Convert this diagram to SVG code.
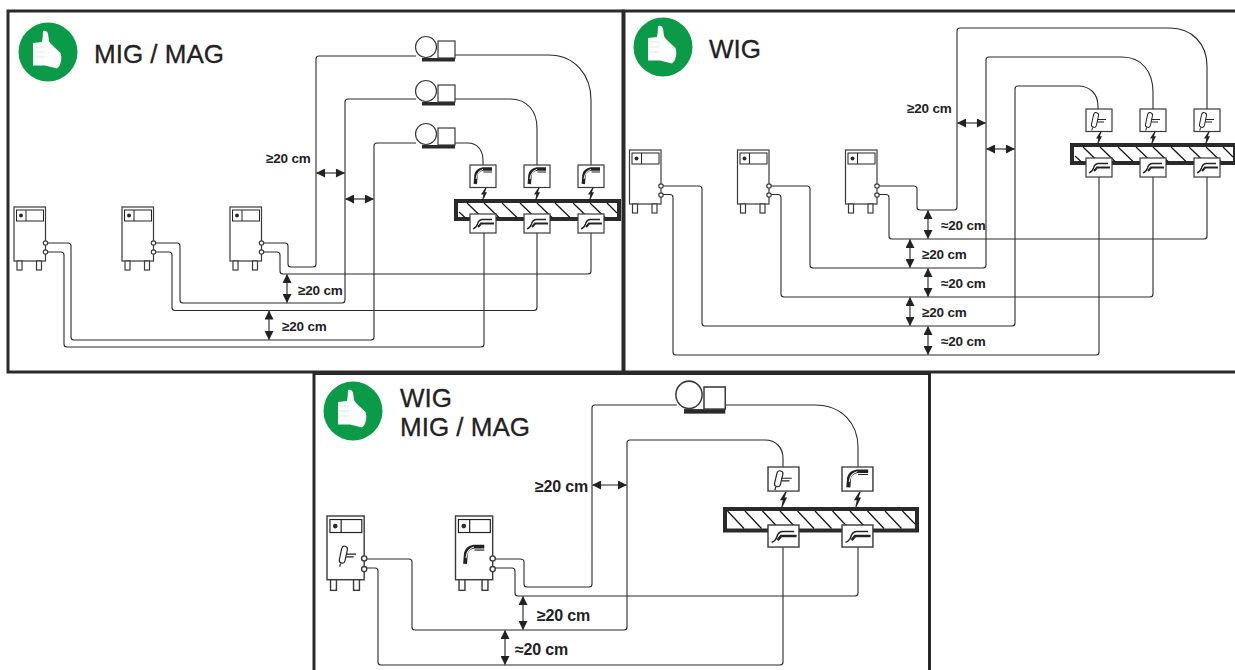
<svg xmlns="http://www.w3.org/2000/svg" width="1235" height="670" viewBox="0 0 1235 670">
<style>
text{font-family:"Liberation Sans",Arial,sans-serif;fill:#222}
.t{font-size:26px;stroke:#222;stroke-width:.3}
.l{font-size:13.5px;font-weight:bold;letter-spacing:-.2px}
.L{font-size:16px;font-weight:bold;letter-spacing:-.2px}
.frame{fill:none;stroke:#2a2a2a;stroke-width:3}
.w{fill:none;stroke:#2a2a2a;stroke-width:1.1}
.a{fill:none;stroke:#222;stroke-width:1.1;marker-start:url(#ah);marker-end:url(#ah)}
.o{fill:#fff;stroke:#3a3a3a;stroke-width:1.2}
.k{fill:#2a2a2a;stroke:none}
.n{fill:none;stroke:#222;stroke-width:1}
.h{fill:none;stroke:#111;stroke-width:1.2}
.wp{fill:#fff;stroke:#2a2a2a;stroke-width:4}
</style>
<defs>
<marker id="ah" viewBox="0 0 10 10" refX="9.500" refY="5" markerWidth="10" markerHeight="9" orient="auto-start-reverse" markerUnits="userSpaceOnUse"><path d="M0 0L10 5L0 10z" fill="#222"/></marker>
<g id="machine">
<rect class="o" x="0" y="0" width="31.500" height="54"/>
<rect class="n" x="2.500" y="3" width="27" height="11"/><path class="n" d="M12 3V14"/>
<circle class="k" cx="7" cy="8.500" r="2"/>
<rect class="o" x="3" y="54" width="5" height="9"/><rect class="o" x="22.500" y="54" width="5" height="9"/>
<circle class="o" cx="31.500" cy="36" r="2.200"/><circle class="o" cx="31.500" cy="45" r="2.200"/>
</g>
<g id="feeder">
<rect class="k" x="-4" y="17" width="33" height="3.500"/>
<circle class="o" cx="0" cy="6" r="10.500"/>
<rect class="o" x="12" y="0" width="17" height="17"/>
</g>
<g id="migicon">
<path d="M5.300 19L6 10Q7 5 13 4L22 4" fill="none" stroke="#222" stroke-width="3.400"/>
<path d="M6 14L7 10Q8 6 13 4.300" fill="none" stroke="#fff" stroke-width=".9"/>
<path d="M13.500 7H22" class="n"/>
</g>
<g id="tigicon">
<rect x="-2.500" y="-7.500" width="5" height="15" rx="2.500" transform="translate(9,11) rotate(12)" fill="#fff" stroke="#222" stroke-width="1"/>
<path d="M6.500 18.500L5.800 21.500" stroke="#222" stroke-width="1"/>
<path d="M11.500 10.500H20M11.500 13H18" stroke="#222" stroke-width="1.100" fill="none"/>
</g>
<g id="migbox"><rect class="o" width="26" height="22.500"/><use href="#migicon"/></g>
<g id="tigbox"><rect class="o" width="26" height="22.500"/><use href="#tigicon"/></g>
<g id="clamp"><rect class="o" width="26" height="19"/>
<path d="M3 15Q6.500 13.500 7.500 10Q8.500 6 12 5.500H22" fill="none" stroke="#222" stroke-width="1.300"/>
<path d="M8 13Q10 11 11 9.500H24" fill="none" stroke="#222" stroke-width="2.200"/>
</g>
<path id="bolt" d="M1.500 -6L-3 1L-.6 1L-1.800 6.500L-1 6.800L3 -1.200L.9 -1.200L2.700 -6z" fill="#222"/>
<g id="wp">
<rect class="wp" x="2" y="2" width="163" height="18"/>
<path class="h" d="M5 13L11 18.500M13 4L28 18.500M30 4L45 18.500M48 4L63 18.500M66 4L81 18.500M83 4L98 18.500M101 4L116 18.500M119 4L134 18.500M136 4L151 18.500M153 4L163 14"/>
</g>
<g id="wp3">
<rect class="wp" x="2" y="2" width="192" height="21.500"/>
<path class="h" d="M4.500 4L21 21.500M22 4L38.500 21.500M39.500 4L56 21.500M57 4L73.500 21.500M74.500 4L91 21.500M92 4L108.500 21.500M109.500 4L126 21.500M127 4L143.500 21.500M144.500 4L161 21.500M162 4L178.500 21.500M179.500 4L192 17"/>
</g>
<g id="thumb">
<path d="M-5 -21Q-1 -22 0 -18.500L1 -11Q2 -8.500 4 -7L12.500 1Q14 5 13 9.500Q12 14 9 16.500L-3 13.500H-15V-9L-6 -10Q-5 -15 -5 -21z" fill="#fff"/>
<path d="M-14 -5H-4M-14 0H-4M-14 5H-4" stroke="#bfe6cf" stroke-width=".7" fill="none"/>
</g>
<g id="badge"><circle r="29.500" fill="#0a9a48"/><use href="#thumb"/></g>
</defs>

<g id="frames">
<rect class="frame" x="8" y="11" width="615" height="361"/>
<rect class="frame" x="624" y="11" width="640" height="361"/>
<path class="frame" d="M314 680V373.500H929.500V680"/>
</g>

<g id="connectors">
<path class="w" d="M47 243H68Q71 243 71 246V337Q71 340 74 340H371Q374 340 374 337V146Q374 143 377 143H416"/>
<path class="w" d="M47 252H61Q64 252 64 255V344Q64 347 67 347H481Q484 347 484 344V233"/>
<path class="w" d="M155 243H177Q180 243 180 246V300Q180 303 183 303H342Q345 303 345 300V102Q345 99 348 99H416"/>
<path class="w" d="M155 252H169Q172 252 172 255V307.500Q172 310.500 175 310.500H534Q537 310.500 537 307.500V233"/>
<path class="w" d="M263 243H285Q288 243 288 246V264Q288 267 291 267H313Q316 267 316 264V59Q316 56 319 56H416"/>
<path class="w" d="M263 252H277Q280 252 280 255V271Q280 274 283 274H588Q591 274 591 271V233"/>
<path class="w" d="M455 55H548C575 55 591 75 591 100V165"/>
<path class="w" d="M455 99H510C528 99 537 112 537 128V165"/>
<path class="w" d="M455 143H468C477 143 483 150 483 160V165"/>

<path class="w" d="M663 186H699Q702 186 702 189V323Q702 326 705 326H1012Q1015 326 1015 323V89Q1015 86 1018 86H1078C1090 86 1098 94 1098 106V109"/>
<path class="w" d="M663 194.500H670Q673 194.500 673 197.500V352Q673 355 676 355H1096Q1099 355 1099 352V177"/>
<path class="w" d="M771 186H807Q810 186 810 189V265Q810 268 813 268H983Q986 268 986 265V60Q986 57 989 57H1122C1142 57 1153 72 1153 92V109"/>
<path class="w" d="M771 194.500H778Q781 194.500 781 197.500V294Q781 297 784 297H1150Q1153 297 1153 294V177"/>
<path class="w" d="M879 186H914Q917 186 917 189V207Q917 210 920 210H954Q957 210 957 207V31Q957 28 960 28H1170C1192 28 1207 44 1207 66V109"/>
<path class="w" d="M879 194.500H886Q889 194.500 889 197.500V236Q889 239 892 239H1204Q1207 239 1207 236V177"/>

<path class="w" d="M367 559H409Q412 559 412 562V627Q412 630 415 630H624Q627 630 627 627V443Q627 440 630 440H765C776 440 783 448 783 458V467"/>
<path class="w" d="M367 568H375Q378 568 378 571V662Q378 665 381 665H780Q783 665 783 662V547"/>
<path class="w" d="M495 559H520Q524 559 524 562V584Q524 587 527 587H589Q592 587 592 584V408Q592 405 595 405H677"/>
<path class="w" d="M495 568H512Q515 568 515 571V593Q515 596 518 596H855Q858 596 858 593V547"/>
<path class="w" d="M724 405H815C842 405 858 424 858 447V467"/>

<path class="a" d="M316.500 173H344.500"/><path class="a" d="M345.500 199H373.500"/>
<path class="a" d="M287 274.500V302.500"/><path class="a" d="M269 311V339.500"/>
<path class="a" d="M957.500 123H985.500"/><path class="a" d="M986.500 149H1014.500"/>
<path class="a" d="M928 210.500V238.500"/><path class="a" d="M910 239.500V267.500"/><path class="a" d="M928 268.500V296.500"/><path class="a" d="M910 297.500V325.500"/><path class="a" d="M928 326.500V354.500"/>
<path class="a" d="M592.500 485H626.500"/>
<path class="a" d="M523 596.500V629.500"/><path class="a" d="M505 630.500V664.500"/>
</g>

<g id="panel-mig">
<g id="badge-1"><use href="#badge" x="48" y="52"/></g>
<text class="t" x="94" y="63">MIG / MAG</text>
<g id="m1-1"><use href="#machine" x="14" y="207"/></g>
<g id="m1-2"><use href="#machine" x="122" y="207"/></g>
<g id="m1-3"><use href="#machine" x="230" y="207"/></g>
<g id="f1-1"><use href="#feeder" x="426" y="41"/></g>
<g id="f1-2"><use href="#feeder" x="426" y="85"/></g>
<g id="f1-3"><use href="#feeder" x="426" y="128"/></g>
<g id="wp-1"><use href="#wp" x="454" y="199"/></g>
<g id="t1-1"><use href="#migbox" x="470" y="165"/><use href="#bolt" x="484" y="193.500"/><use href="#clamp" x="470" y="214"/></g>
<g id="t1-2"><use href="#migbox" x="524" y="165"/><use href="#bolt" x="537" y="193.500"/><use href="#clamp" x="524" y="214"/></g>
<g id="t1-3"><use href="#migbox" x="578" y="165"/><use href="#bolt" x="591" y="193.500"/><use href="#clamp" x="578" y="214"/></g>
<text class="l" x="266" y="163">≥20 cm</text>
<text class="l" x="298" y="295">≥20 cm</text>
<text class="l" x="282" y="331">≥20 cm</text>
</g>

<g id="panel-wig">
<g id="badge-2"><use href="#badge" x="663" y="47"/></g>
<text class="t" x="709" y="58">WIG</text>
<g id="m2-1"><use href="#machine" x="629.500" y="150"/></g>
<g id="m2-2"><use href="#machine" x="737.500" y="150"/></g>
<g id="m2-3"><use href="#machine" x="845.500" y="150"/></g>
<g id="wp-2"><use href="#wp" x="1070" y="143"/></g>
<g id="t2-1"><use href="#tigbox" x="1086" y="109"/><use href="#bolt" x="1099" y="137.500"/><use href="#clamp" x="1086" y="158"/></g>
<g id="t2-2"><use href="#tigbox" x="1140" y="109"/><use href="#bolt" x="1153" y="137.500"/><use href="#clamp" x="1140" y="158"/></g>
<g id="t2-3"><use href="#tigbox" x="1194" y="109"/><use href="#bolt" x="1207" y="137.500"/><use href="#clamp" x="1194" y="158"/></g>
<text class="l" x="907" y="113">≥20 cm</text>
<text class="l" x="941" y="230">≈20 cm</text>
<text class="l" x="922" y="259">≥20 cm</text>
<text class="l" x="941" y="288">≈20 cm</text>
<text class="l" x="922" y="317">≥20 cm</text>
<text class="l" x="941" y="346">≈20 cm</text>
</g>

<g id="panel-both">
<g id="badge-3"><use href="#badge" x="353" y="411"/></g>
<text class="t" x="400" y="407">WIG</text>
<text class="t" x="400" y="436">MIG / MAG</text>
<g id="m3-1"><use href="#machine" transform="translate(327,516) scale(1.18)"/><use href="#tigicon" transform="translate(333,542) scale(1.15)"/></g>
<g id="m3-2"><use href="#machine" transform="translate(455.500,516) scale(1.18)"/><use href="#migicon" transform="translate(459,542) scale(1.15)"/></g>
<g id="f3-1"><use href="#feeder" transform="translate(689,387) scale(1.25,1.3)"/></g>
<g id="wp-3"><use href="#wp3" x="723" y="507"/></g>
<g id="t3-1"><use href="#tigbox" transform="translate(768,467) scale(1.19,1.07)"/><use href="#bolt" transform="translate(783.500,499) scale(1.2)"/><use href="#clamp" transform="translate(768,525) scale(1.19,1.16)"/></g>
<g id="t3-2"><use href="#migbox" transform="translate(842,467) scale(1.19,1.07)"/><use href="#bolt" transform="translate(857.500,499) scale(1.2)"/><use href="#clamp" transform="translate(842,525) scale(1.19,1.16)"/></g>
<text class="L" x="535" y="491.500">≥20 cm</text>
<text class="L" x="537" y="620.500">≥20 cm</text>
<text class="L" x="515" y="654.500">≈20 cm</text>
</g>
</svg>
